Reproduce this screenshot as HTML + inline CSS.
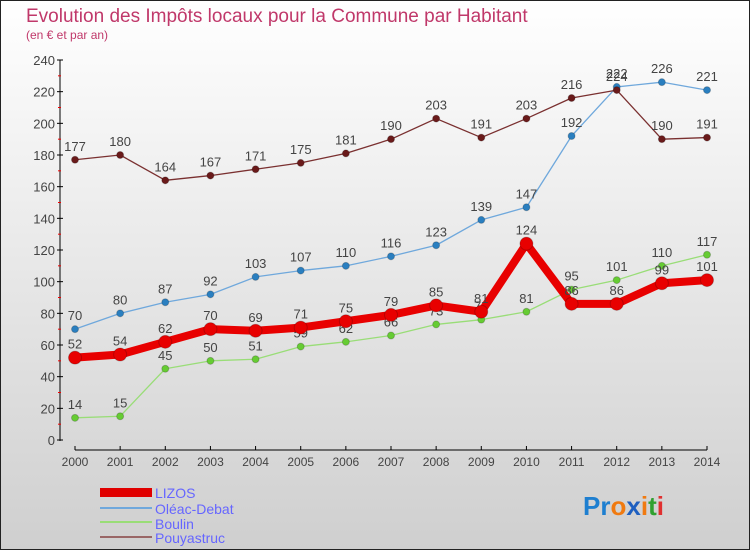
<!DOCTYPE html>
<html><head><meta charset="utf-8"><style>
body{margin:0;width:750px;height:550px;overflow:hidden;font-family:"Liberation Sans",sans-serif}
svg{display:block}
</style></head><body>
<svg id="chart" width="750" height="550">
<defs><linearGradient id="bg" x1="0" y1="0" x2="0" y2="1"><stop offset="0" stop-color="#ffffff"/><stop offset="1" stop-color="#cfcfcf"/></linearGradient></defs>
<rect x="0.5" y="0.5" width="749" height="549" fill="url(#bg)" stroke="#222"/>
<text x="26" y="22" font-size="19" fill="#c0386a">Evolution des Impôts locaux pour la Commune par Habitant</text>
<text x="26" y="39" font-size="12" fill="#c0386a">(en € et par an)</text>
<g id="axes"></g><g id="series"></g>
<g>
<rect x="100" y="488" width="52" height="9" fill="#e00000"/>
<text x="155" y="498" font-size="14" fill="#6666ff">LIZOS</text>
<line x1="100" y1="508" x2="152" y2="508" stroke="#6fa8dc" stroke-width="2"/>
<text x="155" y="514" font-size="14" fill="#6666ff">Oléac-Debat</text>
<line x1="100" y1="522" x2="152" y2="522" stroke="#99dd77" stroke-width="2"/>
<text x="155" y="529" font-size="14" fill="#6666ff">Boulin</text>
<line x1="100" y1="537" x2="152" y2="537" stroke="#996666" stroke-width="2"/>
<text x="155" y="543" font-size="14" fill="#6666ff">Pouyastruc</text>
</g>
<text x="583" y="515" font-size="26" font-weight="bold"><tspan fill="#1e7fd0">Pr</tspan><tspan fill="#f07a10">o</tspan><tspan fill="#1e5fc0">x</tspan><tspan fill="#f07a10">i</tspan><tspan fill="#30a030">t</tspan><tspan fill="#e03030">i</tspan></text>
</svg>
<script>
const years=[2000,2001,2002,2003,2004,2005,2006,2007,2008,2009,2010,2011,2012,2013,2014];
const yTicks=[0,20,40,60,80,100,120,140,160,180,200,220,240];
const lizos=[52,54,62,70,69,71,75,79,85,81,124,86,86,99,101];
const oleac=[70,80,87,92,103,107,110,116,123,139,147,192,223,226,221];
const boulin=[14,15,45,50,51,59,62,66,73,76,81,95,101,110,117];
const pouy=[177,180,164,167,171,175,181,190,203,191,203,216,221,190,191];
const oleacLabels=[70,80,87,92,103,107,110,116,123,139,147,192,222,226,221];
const pouyLabels=[177,180,164,167,171,175,181,190,203,191,203,216,224,190,191];
const NS="http://www.w3.org/2000/svg";
const X=i=>75+i*(632/14), Y=v=>440-v*(380/240);
function mk(tag,attrs,parent){const e=document.createElementNS(NS,tag);for(const k in attrs)e.setAttribute(k,attrs[k]);parent.appendChild(e);return e;}
const ax=document.getElementById('axes');
let a=mk('line',{x1:60,y1:60,x2:60,y2:441,stroke:'#000'},ax);


yTicks.forEach(v=>{mk('line',{x1:57,y1:Y(v),x2:63,y2:Y(v),stroke:'#000'},ax);
 mk('line',{x1:58,y1:Y(v+10),x2:61,y2:Y(v+10),stroke:v<240?'#e00':'none'},ax);
 const t=mk('text',{x:55,y:Y(v)+5,'font-size':13,'text-anchor':'end',fill:'#444'},ax);t.textContent=v;
 
 });
a=mk('line',{x1:75,y1:450,x2:707,y2:450,stroke:'#000'},ax);


years.forEach((y,i)=>{mk('line',{x1:X(i),y1:446,x2:X(i),y2:450,stroke:'#000'},ax);
 const t=mk('text',{x:X(i),y:466,'font-size':12,'text-anchor':'middle',fill:'#444'},ax);t.textContent=y;
 
 });
const sg=document.getElementById('series');
function draw(name,vals,labels,color,w,r,dot){
 const g=mk('g',{},sg);
 
 
 mk('polyline',{points:vals.map((v,i)=>X(i)+','+Y(v)).join(' '),fill:'none',stroke:color,'stroke-width':w,'stroke-linejoin':'round'},g);
 vals.forEach((v,i)=>{const c=mk('circle',{cx:X(i),cy:Y(v),r:r,fill:dot,stroke:'#0003'},g);
  
  
  const t=mk('text',{x:X(i),y:Y(v)-9,'font-size':13,'text-anchor':'middle',fill:'#444'},g);t.textContent=labels[i];
  
  });
}
draw('oleac',oleac,oleacLabels,'#6fa8dc',1.3,3.5,'#2a7fc0');
draw('boulin',boulin,boulin,'#99dd77',1.3,3.5,'#66cc33');
draw('pouyastruc',pouy,pouyLabels,'#7a3030',1.3,3.5,'#6a1a1a');
draw('lizos',lizos,lizos,'#e80000',8,6.5,'#e80000');
</script>
</body></html>
